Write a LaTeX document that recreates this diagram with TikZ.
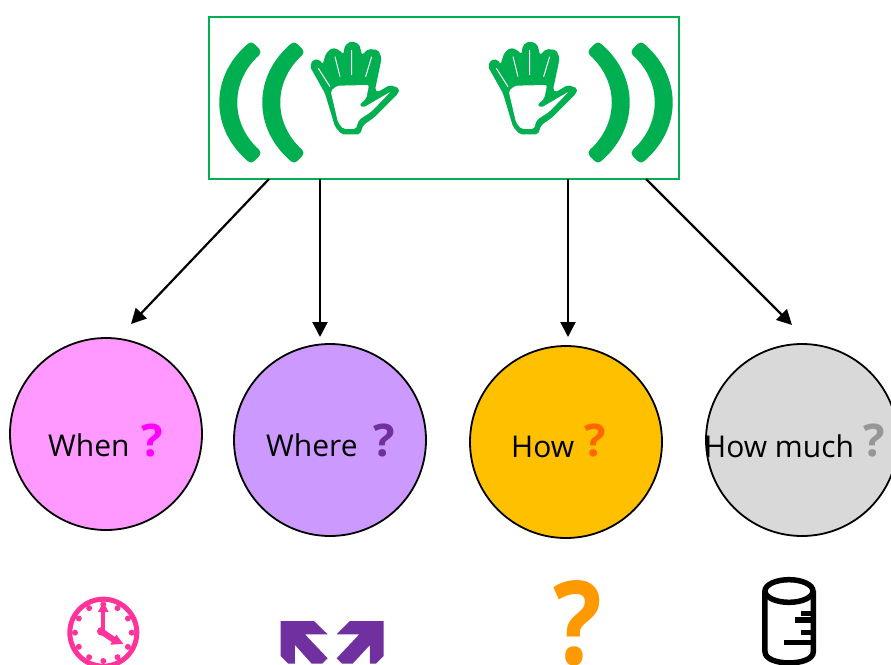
\documentclass[tikz,border=0pt]{standalone}
\usepackage{fontspec}
\setmainfont{Open Sans}
\usetikzlibrary{arrows.meta}
\definecolor{grn}{HTML}{00B050}
\definecolor{pinkc}{HTML}{FF3399}
\definecolor{purp}{HTML}{7030A0}
\definecolor{orng}{HTML}{FF9900}
\definecolor{magq}{HTML}{FF00FF}
\definecolor{orq}{HTML}{FF6600}
\definecolor{gryq}{HTML}{969696}
\definecolor{fillpink}{HTML}{FF99FF}
\definecolor{fillpurp}{HTML}{CC99FF}
\definecolor{fillgold}{HTML}{FFC000}
\definecolor{fillgrey}{HTML}{D9D9D9}
\tikzset{
  bubble/.style={circle,draw=black,line width=1.8pt,minimum size=192pt,inner sep=0pt,outer sep=0pt},
  conn/.style={line width=2.2pt,-{Stealth[length=15pt,width=15pt,inset=0pt]}},
  lab/.style={font=\fontsize{30}{32}\selectfont,inner sep=0pt,anchor=base west,text=black},
  qmark/.style={font=\fontsize{45}{45}\selectfont\bfseries,inner sep=0pt,anchor=base west},
  wave/.style={fill=grn,draw=grn,line width=9pt,line join=round}
}
\newcommand{\greenhand}[2]{%
  \begin{scope}[shift={(#1,#2)},x=0.3333pt,y=-0.3333pt,rounded corners=2pt]
    \fill[grn] (30,95)--(38,75)--(58,73)--(68,88)--(78,55)--(97,38)--(118,45)--(130,58)--(135,30)--(155,18)--(178,28)--(186,60)--(205,42)--(235,45)--(245,70)--(225,165)--(232,172)--(270,150)--(298,160)--(295,175)--(222,248)--(190,270)--(180,298)--(125,298)--(105,275)--(75,175)--cycle;
    \fill[white] (92,168)--(112,152)--(207,150)--(199,190)--(178,210)--(190,218)--(272,170)--(214,230)--(176,255)--(168,282)--(130,282)--(114,262)--cycle;
    \draw[white,line width=1pt,rounded corners=0pt] (55,100)--(90,155) (105,65)--(120,125) (155,45)--(155,120) (215,65)--(197,125);
  \end{scope}}
\newcommand{\leftwaves}{%
  \foreach \dx in {0,43}{
    \draw[wave,xshift=\dx pt] (251,47) .. controls (214.7,78) and (214.7,127) .. (251,158) -- (256,153) .. controls (225,125) and (225,80) .. (256,52) -- cycle;
  }}
\begin{document}
\begin{tikzpicture}[x=1pt,y=-1pt]
\useasboundingbox (0,0) rectangle (891,664);
\clip (0,0) rectangle (891,664);
% top box
\node[draw=grn,line width=2pt,minimum width=470pt,minimum height=162pt,inner sep=0pt,outer sep=0pt] (box) at (444,98) {};
\leftwaves
\begin{scope}[xshift=892pt,xscale=-1]\leftwaves\end{scope}
\greenhand{300}{35}
\greenhand{478}{35}
% circles
\node[bubble,fill=fillpink] (when) at (106,434) {};
\node[bubble,fill=fillpurp] (where) at (330,440) {};
\node[bubble,fill=fillgold] (how) at (566,442) {};
\node[bubble,fill=fillgrey] (much) at (802,440) {};
% labels
\node[lab] (t1) at (48,456) {When};
\node[qmark,text=magq] (q1) at (141,456) {?};
\node[lab] (t2) at (266,456) {Where};
\node[qmark,text=purp] (q2) at (373,456) {?};
\node[lab] (t3) at (511,457) {How};
\node[qmark,text=orq] (q3) at (584,456) {?};
\node[lab] (t4) at (704,457) {How much};
\node[qmark,text=gryq] (q4) at (863,456) {?};
% connectors
\coordinate (s1) at (269,179); \coordinate (e1) at (131,324);
\coordinate (s2) at (320,179); \coordinate (e2) at (320,337);
\coordinate (s3) at (568,179); \coordinate (e3) at (568,337);
\coordinate (s4) at (646,179); \coordinate (e4) at (792,325);
\draw[conn] (s1) -- (e1);
\draw[conn] (s2) -- (e2);
\draw[conn] (s3) -- (e3);
\draw[conn] (s4) -- (e4);
% clock
\begin{scope}[shift={(40,570)},x=0.3333pt,y=-0.3333pt]
  \draw[pinkc,line width=5pt] (190,188) circle[radius=100.5];
  \foreach \a in {0,30,...,330}{\fill[pinkc] (190,188)++(\a:85) circle[radius=9];}
  \draw[pinkc,line width=4pt] (190,188)--(190,120);
  \fill[pinkc] (190,96)--(206,126)--(174,126)--cycle;
  \draw[pinkc,line width=6pt] (187,186)--(225,212);
  \fill[pinkc] (250,222)--(211,224)--(229,194)--cycle;
  \fill[pinkc] (184,184) circle[radius=13];
\end{scope}
% expand arrows
\begin{scope}[shift={(40,570)},x=0.3333pt,y=-0.3333pt]
  \fill[purp] (722,153)--(822,153)--(863,193)--(795,193)--(863,265)--(847,281)--(815,281)--(765,225)--(765,281)--(745,281)--(722,258)--cycle;
  \fill[purp] (1031,153)--(930,153)--(890,193)--(958,193)--(890,265)--(906,281)--(938,281)--(990,225)--(990,281)--(1008,281)--(1031,258)--cycle;
\end{scope}
% big question mark
\node[font=\fontsize{116}{116}\selectfont\bfseries,text=orng,inner sep=0pt,anchor=base,transform shape,xscale=0.88] (bigq) at (578,664) {?};
% cylinder
\begin{scope}[shift={(530,570)},x=0.3333pt,y=-0.3333pt,line width=5.5pt]
  \draw (777,63) ellipse[x radius=72,y radius=34];
  \draw (705,63)--(705,245) .. controls (705,290) and (850,290) .. (850,245)--(850,63);
  \draw (812,130)--(845,130) (795,150)--(845,150) (812,187)--(845,187) (762,218)--(845,218);
\end{scope}
\end{tikzpicture}
\end{document}
